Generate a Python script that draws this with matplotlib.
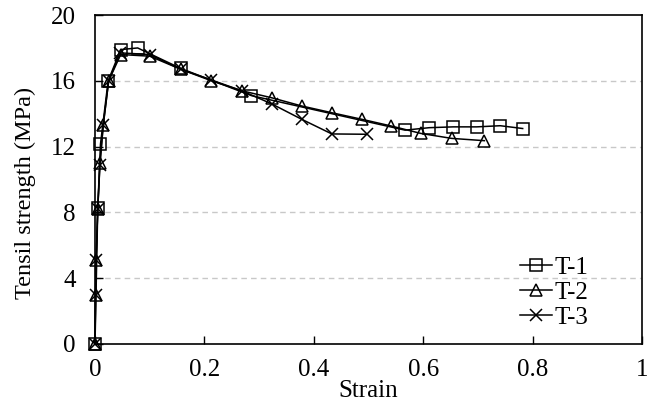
import matplotlib.pyplot as plt

plt.rcParams['font.family'] = ['Liberation Serif', 'DejaVu Serif']

# T-1 (squares)
t1_strain = [0, 0.005, 0.01, 0.024, 0.047, 0.078, 0.157, 0.286, 0.567, 0.611, 0.655, 0.698, 0.741, 0.782]
t1_stress = [0, 8.25, 12.15, 16.0, 17.9, 18.0, 16.75, 15.1, 13.0, 13.15, 13.2, 13.2, 13.27, 13.1]

# T-2 (triangles)
t2_strain = [0, 0.001, 0.002, 0.005, 0.009, 0.015, 0.025, 0.047, 0.1, 0.157, 0.213, 0.268, 0.323,
             0.378, 0.433, 0.488, 0.542, 0.596, 0.652, 0.712]
t2_stress = [0, 3.0, 5.1, 8.2, 11.0, 13.3, 16.0, 17.6, 17.5, 16.7, 16.0, 15.4, 14.97,
             14.47, 14.06, 13.66, 13.25, 12.8, 12.5, 12.36]

# T-3 (crosses)
t3_strain = [0, 0.001, 0.002, 0.005, 0.009, 0.015, 0.025, 0.046, 0.1, 0.157, 0.213, 0.268, 0.323,
             0.378, 0.433, 0.497]
t3_stress = [0, 3.0, 5.1, 8.2, 10.9, 13.3, 16.0, 17.7, 17.6, 16.7, 16.05, 15.4, 14.6,
             13.66, 12.77, 12.75]

fig = plt.figure(figsize=(6.53, 4.07), dpi=100)
ax = fig.add_axes([0.1455, 0.155, 0.8375, 0.808])

style = dict(color='black', linewidth=1.1, markerfacecolor='none', markeredgewidth=1.1, clip_on=False)
ax.plot(t1_strain, t1_stress, marker='s', markersize=8, label='T-1', **style)
ax.plot(t2_strain, t2_stress, marker='^', markersize=8, label='T-2', **style)
ax.plot(t3_strain, t3_stress, marker='x', markersize=9, label='T-3', **style)

ax.set_xlim(0, 1)
ax.set_ylim(0, 20)
ax.set_xticks([0, 0.2, 0.4, 0.6, 0.8, 1])
ax.set_xticklabels(['0', '0.2', '0.4', '0.6', '0.8', '1'])
ax.set_yticks([0, 4, 8, 12, 16, 20])
ax.tick_params(direction='in', labelsize=18, length=6, width=1)
ax.tick_params(axis='y', pad=14)
ax.tick_params(axis='x', pad=11)

for y in [4, 8, 12, 16]:
    ax.axhline(y, color='#c8c8c8', linestyle=(0, (4, 3)), linewidth=1, zorder=0)

for s in ax.spines.values():
    s.set_linewidth(1.2)

ax.set_xlabel('Strain', fontsize=18, labelpad=-1)
ax.set_ylabel('Tensil strength (MPa)', fontsize=17.5)
ax.yaxis.set_label_coords(-0.108, 0.46)

ax.legend(loc='lower right', bbox_to_anchor=(0.93, 0.0), frameon=False, fontsize=18,
          handlelength=1.3, handletextpad=0.1, labelspacing=0.1, borderaxespad=0.2)

fig.savefig('out.png', dpi=100)
